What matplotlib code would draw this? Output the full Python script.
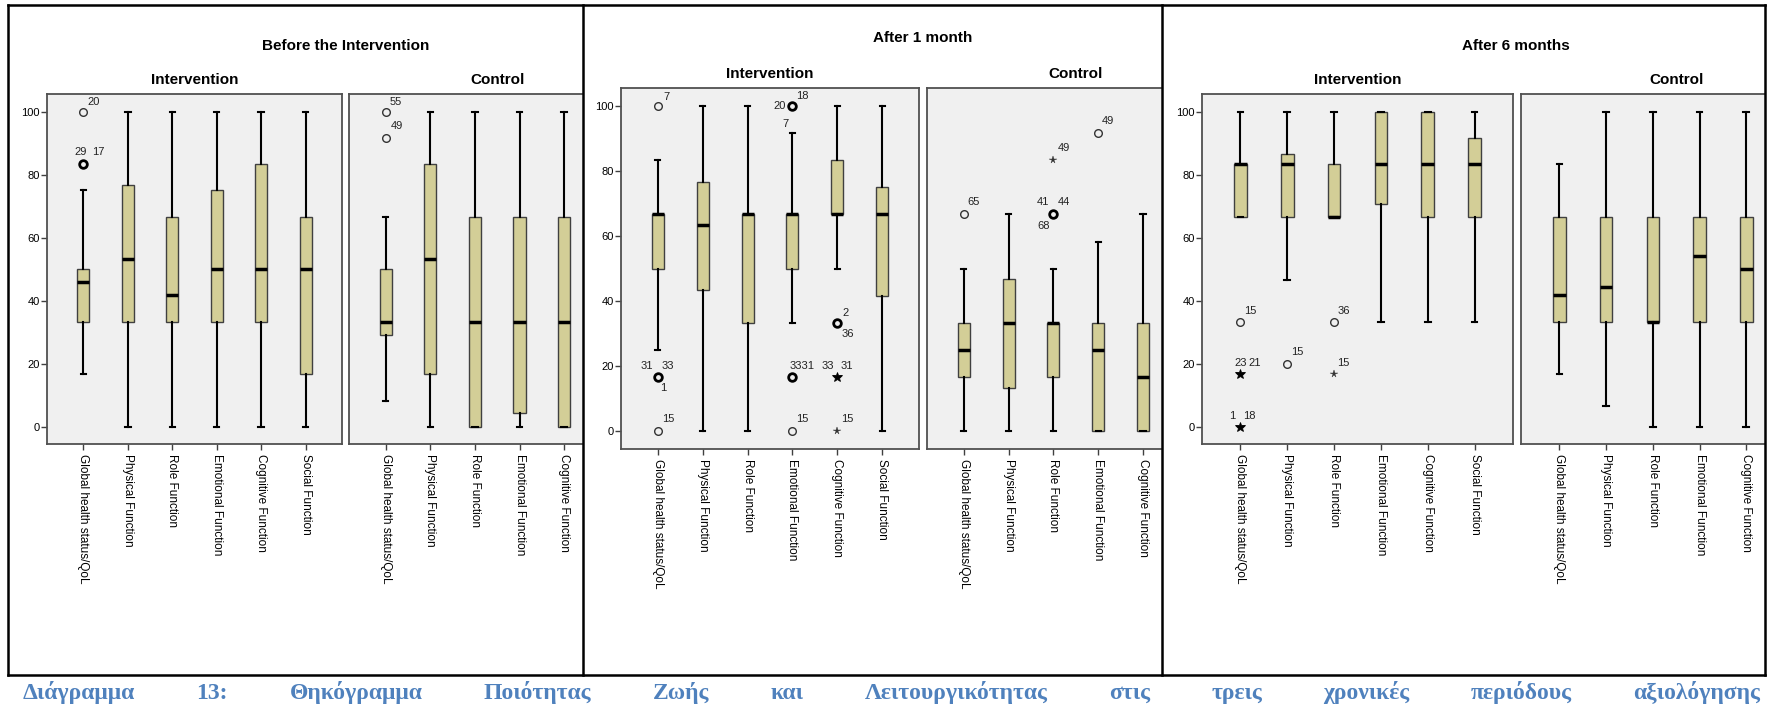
import matplotlib
matplotlib.use("Agg")
import matplotlib.pyplot as plt
from matplotlib import font_manager
from matplotlib.lines import Line2D

# --- data ---------------------------------------------------------------
cats = ["Global health status/QoL", "Physical Function", "Role Function",
        "Emotional Function", "Cognitive Function", "Social Function"]
periods = ["Before the Intervention", "After 1 month", "After 6 months"]
groups = ["Intervention", "Control"]

# (whisker low, Q1, median, Q3, whisker high) per category
before_int = [(16.7, 33.3, 45.8, 50, 75), (0, 33.3, 53.3, 76.7, 100), (0, 33.3, 41.7, 66.7, 100),
              (0, 33.3, 50, 75, 100), (0, 33.3, 50, 83.3, 100), (0, 16.7, 50, 66.7, 100)]
before_ctl = [(8.3, 29.2, 33.3, 50, 66.7), (0, 16.7, 53.3, 83.3, 100), (0, 0, 33.3, 66.7, 100),
              (0, 4.2, 33.3, 66.7, 100), (0, 0, 33.3, 66.7, 100)]
month1_int = [(25, 50, 66.7, 66.7, 83.3), (0, 43.3, 63.3, 76.7, 100), (0, 33.3, 66.7, 66.7, 100),
              (33.3, 50, 66.7, 66.7, 91.7), (50, 66.7, 66.7, 83.3, 100), (0, 41.7, 66.7, 75, 100)]
month1_ctl = [(0, 16.7, 25, 33.3, 50), (0, 13.3, 33.3, 46.7, 66.7), (0, 16.7, 33.3, 33.3, 50),
              (0, 0, 25, 33.3, 58.3), (0, 0, 16.7, 33.3, 66.7)]
month6_int = [(66.7, 66.7, 83.3, 83.3, 100), (46.7, 66.7, 83.3, 86.7, 100), (66.7, 66.7, 66.7, 83.3, 100),
              (33.3, 70.8, 83.3, 100, 100), (33.3, 66.7, 83.3, 100, 100), (33.3, 66.7, 83.3, 91.7, 100)]
month6_ctl = [(16.7, 33.3, 41.7, 66.7, 83.3), (6.7, 33.3, 44.2, 66.7, 100), (0, 33.3, 33.3, 66.7, 100),
              (0, 33.3, 54.2, 66.7, 100), (0, 33.3, 50, 66.7, 100)]

# outliers: (category, value, kind)  o = outlier, O = several outliers, * = extreme, ** = several extremes
before_int_out = [(0, 100, "o"), (0, 83.3, "O")]
before_ctl_out = [(0, 100, "o"), (0, 91.7, "o")]
month1_int_out = [(0, 100, "o"), (0, 16.7, "O"), (0, 0, "o"), (3, 100, "O"), (3, 16.7, "O"),
                  (3, 0, "o"), (4, 33.3, "O"), (4, 16.7, "**"), (4, 0, "*")]
month1_ctl_out = [(0, 66.7, "o"), (2, 66.7, "O"), (2, 83.3, "*"), (3, 91.7, "o")]
month6_int_out = [(0, 33.3, "o"), (0, 16.7, "**"), (0, 0, "**"), (1, 20, "o"), (2, 33.3, "o"), (2, 16.7, "*")]
month6_ctl_out = []

# case labels: (category, value, case number)
before_int_lab = [(0, 100, "20"), (0, 83.3, "29"), (0, 83.3, "17")]
before_ctl_lab = [(0, 100, "55"), (0, 91.7, "49")]
month1_int_lab = [(0, 100, "7"), (0, 16.7, "31"), (0, 16.7, "33"), (0, 16.7, "1"), (0, 0, "15"),
                  (3, 100, "20"), (3, 100, "18"), (3, 91.7, "7"), (3, 16.7, "3331"), (3, 0, "15"),
                  (4, 33.3, "2"), (4, 33.3, "36"), (4, 16.7, "33"), (4, 16.7, "31"), (4, 0, "15")]
month1_ctl_lab = [(0, 66.7, "65"), (2, 66.7, "41"), (2, 66.7, "44"), (2, 66.7, "68"),
                  (2, 83.3, "49"), (3, 91.7, "49")]
month6_int_lab = [(0, 33.3, "15"), (0, 16.7, "23"), (0, 16.7, "21"), (0, 0, "1"), (0, 0, "18"),
                  (1, 20, "15"), (2, 33.3, "36"), (2, 16.7, "15")]
month6_ctl_lab = []

yticks = [0, 20, 40, 60, 80, 100]
caption = "Διάγραμμα 13: Θηκόγραμμα Ποιότητας Ζωής και Λειτουργικότητας στις τρεις χρονικές περιόδους αξιολόγησης"

# --- label offsets (pixels) ----------------------------------------------
before_int_off = [(10, 10), (-3, 12), (15, 12)]
before_ctl_off = [(10, 10), (11, 12)]
month1_int_off = [(9, 9), (-11, 11), (10, 11), (5, -11), (10, 12), (-13, 0), (10, 10), (-7, 9),
                  (10, 11), (10, 12), (8, 10), (10, -11), (-10, 11), (9, 11), (10, 12)]
month1_ctl_off = [(10, 12), (-10, 12), (10, 12), (-10, -12), (10, 12), (10, 12)]
month6_int_off = [(10, 11), (0, 11), (14, 11), (-8, 11), (9, 11), (10, 12), (10, 11), (9, 11)]
month6_ctl_off = []

# --- fonts -----------------------------------------------------------------
names = {f.name for f in font_manager.fontManager.ttflist}
narrow = "Liberation Sans Narrow" if "Liberation Sans Narrow" in names else "Liberation Sans"
plt.rcParams["font.family"] = ["Liberation Sans", "DejaVu Sans"]

W, H = 1775, 710
fig = plt.figure(figsize=(W / 100, H / 100), dpi=100)
fig.patch.set_facecolor("white")

# axes rectangles in pixels: left, top, right, bottom
rects = [[(47, 94, 342, 444), (349, 94, 582, 444)],
         [(621, 88, 919, 449), (927, 88, 1161, 449)],
         [(1202, 94, 1513, 444), (1521, 94, 1765, 444)]]
title_pos = [(346, 46), (923, 38), (1516, 46)]

all_stats = [[before_int, before_ctl], [month1_int, month1_ctl], [month6_int, month6_ctl]]
all_out = [[before_int_out, before_ctl_out], [month1_int_out, month1_ctl_out], [month6_int_out, month6_ctl_out]]
all_lab = [[before_int_lab, before_ctl_lab], [month1_int_lab, month1_ctl_lab], [month6_int_lab, month6_ctl_lab]]
all_off = [[before_int_off, before_ctl_off], [month1_int_off, month1_ctl_off], [month6_int_off, month6_ctl_off]]

px = 0.72  # points per pixel at 100 dpi

for p in range(3):
    fig.text(title_pos[p][0] / W, 1 - title_pos[p][1] / H, periods[p], ha="center", va="center",
             fontsize=11, fontweight="bold")
    for g in range(2):
        l, t, r, b = rects[p][g]
        ax = fig.add_axes([l / W, 1 - b / H, (r - l) / W, (b - t) / H])
        ax.set_facecolor("#F0F0F0")
        stats = all_stats[p][g]
        n = len(stats)
        bstats = [dict(whislo=s[0], q1=s[1], med=s[2], q3=s[3], whishi=s[4], fliers=[]) for s in stats]
        ax.bxp(bstats, positions=list(range(n)), widths=0.27, capwidths=0.12, patch_artist=True,
               showfliers=False,
               boxprops=dict(facecolor="#D3CE97", edgecolor="#404040", linewidth=1),
               whiskerprops=dict(color="black", linewidth=1.5),
               capprops=dict(color="black", linewidth=1.5),
               medianprops=dict(color="black", linewidth=2.5))

        for c, v, k in all_out[p][g]:
            if k == "*":
                ax.plot(c, v, marker="*", ms=5.5, mfc="#333333", mec="#333333", mew=0.3, ls="none", zorder=5)
            elif k == "**":
                ax.plot(c, v, marker="*", ms=7, color="black", mew=0.6, ls="none", zorder=5)
            else:
                ax.plot(c, v, marker="o", ms=5.5, mfc="none", mec="#333333" if k == "o" else "black",
                        mew=1 if k == "o" else 2, ls="none", zorder=5)
        for (c, v, s), (dx, dy) in zip(all_lab[p][g], all_off[p][g]):
            ax.annotate(s, (c, v), xytext=(dx * px, dy * px), textcoords="offset points",
                        ha="center", va="center", fontsize=8, family=narrow, color="#222222")

        ax.set_ylim(-5.5, 105.6)
        if g == 0:
            ax.set_xlim(-0.82, 5.82)
            ax.set_yticks(yticks)
            ax.set_yticklabels([str(v) for v in yticks], family=narrow, fontsize=8)
            ax.tick_params(axis="y", length=4, width=1, color="#404040", pad=1)
            ax.annotate(groups[g], (0.5, 1), xycoords="axes fraction", xytext=(0, 14 * px),
                        textcoords="offset points", ha="center", va="center",
                        fontsize=11, fontweight="bold")
        else:
            ax.set_xlim(-0.82, 4.4)
            ax.tick_params(axis="y", left=False, labelleft=False)
            ax.spines["right"].set_visible(False)
            ax.annotate(groups[g], ((2.5 + 0.82) / 5.22, 1), xycoords="axes fraction",
                        xytext=(0, 14 * px), textcoords="offset points", ha="center", va="center",
                        fontsize=11, fontweight="bold")
        ax.set_xticks(list(range(n)))
        ax.set_xticklabels(cats[:n], rotation=270, fontsize=8.5, ha="center", va="top")
        ax.tick_params(axis="x", length=4.5, width=1, color="#404040", pad=3)
        for sp in ax.spines.values():
            sp.set_color("#505050")
            sp.set_linewidth(1.3)

# panel frames
def fline(x0, y0, x1, y1):
    fig.add_artist(Line2D([x0 / W, x1 / W], [1 - y0 / H, 1 - y1 / H], transform=fig.transFigure,
                          color="black", lw=1.8, zorder=10))

fline(8, 5, 1765, 5)
fline(8, 675, 1765, 675)
fline(8, 5, 8, 675)
fline(1765, 5, 1765, 675)
fline(583, 5, 583, 675)
fline(1162, 5, 1162, 675)

# justified caption
words = caption.split()
texts = [fig.text(0, 1 - 699 / H, w, ha="left", va="baseline", fontsize=17, fontweight="bold",
                  family=["Liberation Serif", "DejaVu Serif"], color="#4F81BD") for w in words]
fig.canvas.draw()
rend = fig.canvas.get_renderer()
widths = [t.get_window_extent(rend).width for t in texts]
x0, x1 = 23, 1760
gap = (x1 - x0 - sum(widths)) / (len(words) - 1)
x = x0
for t, w in zip(texts, widths):
    t.set_x(x / W)
    x += w + gap

fig.savefig("out.png", dpi=100)
